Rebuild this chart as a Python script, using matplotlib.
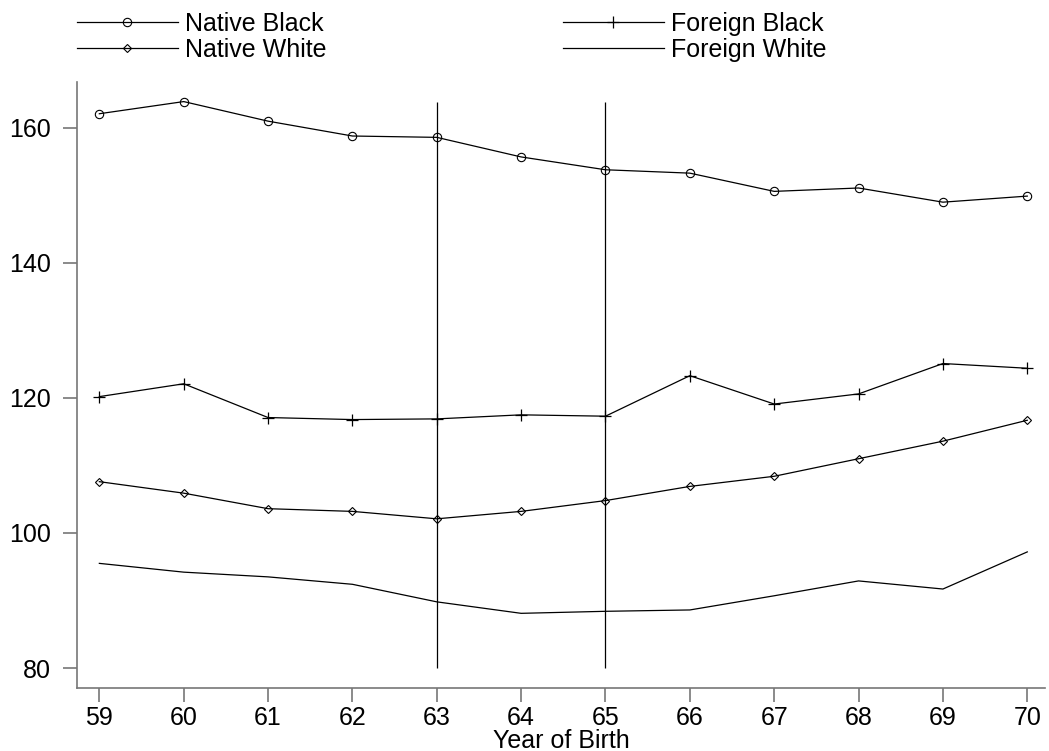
import numpy as np
import matplotlib
matplotlib.use("Agg")
import matplotlib.pyplot as plt

plt.rcParams['font.family'] = ['Liberation Sans', 'DejaVu Sans']

# year of birth (two digits)
years = [59, 60, 61, 62, 63, 64, 65, 66, 67, 68, 69, 70]

native_black = [162.1, 163.9, 161.0, 158.8, 158.6, 155.7, 153.8, 153.3, 150.6, 151.1, 149.0, 149.9]
foreign_black = [120.2, 122.1, 117.1, 116.8, 116.9, 117.5, 117.3, 123.3, 119.1, 120.6, 125.1, 124.4]
native_white = [107.6, 105.9, 103.6, 103.2, 102.1, 103.2, 104.8, 106.9, 108.4, 111.0, 113.6, 116.7]
foreign_white = [95.5, 94.2, 93.5, 92.4, 89.8, 88.1, 88.4, 88.6, 90.7, 92.9, 91.7, 97.2]

vline_years = [63, 65]
yticks = [80, 100, 120, 140, 160]

fig = plt.figure(figsize=(10.49, 7.51), dpi=100)
ax = fig.add_axes([77 / 1049, 1 - 688 / 751, (1045 - 77) / 1049, (688 - 82) / 751])

lw = 0.9
ax.plot(years, native_black, color='black', lw=lw, marker='o', ms=6,
        mfc='none', mew=0.8, label='Native Black')
ax.plot(years, native_white, color='black', lw=lw, marker='D', ms=4.5,
        mfc='none', mew=0.8, label='Native White')
ax.plot(years, foreign_black, color='black', lw=lw, marker='+', ms=8,
        mew=0.9, label='Foreign Black')
ax.plot(years, foreign_white, color='black', lw=lw, label='Foreign White')

ax.vlines(vline_years, 80, max(native_black), color='black', lw=lw)

ax.set_xlim(58.735, 70.21)
ax.set_ylim(77.04, 166.8)
ax.set_xticks(years)
ax.set_yticks(yticks)
ax.tick_params(labelsize=18, length=10, width=1.2, color='#777777')
ax.tick_params(axis='x', pad=3.0)
ax.tick_params(axis='y', pad=8.5)

for s in ['top', 'right']:
    ax.spines[s].set_visible(False)
for s in ['left', 'bottom']:
    ax.spines[s].set_color('#777777')
    ax.spines[s].set_linewidth(1.2)

ax.set_xlabel('Year of Birth', fontsize=18, labelpad=-1)

h, l = ax.get_legend_handles_labels()
fig.legend(h, l, ncol=2, loc='upper left', bbox_to_anchor=(76.7 / 1049, 1 - 12 / 751),
           frameon=False, fontsize=18, handlelength=4.04, handletextpad=0.29,
           columnspacing=9.46, labelspacing=0.08, borderaxespad=0.0, borderpad=0.0)

fig.savefig('out.png', dpi=100)
